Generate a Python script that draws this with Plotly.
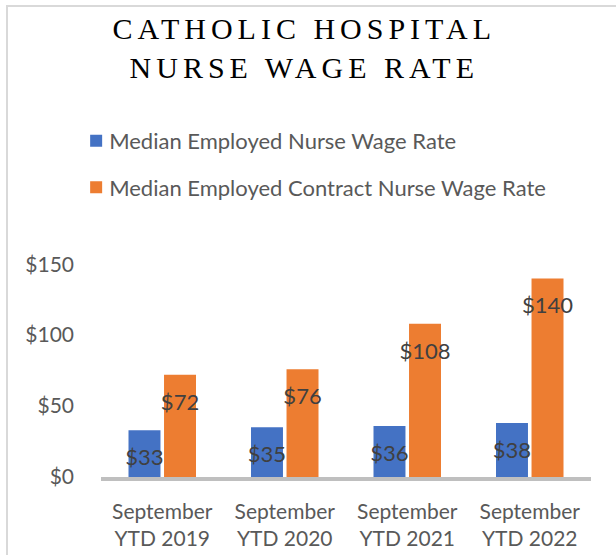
import plotly.graph_objects as go

categories = ["September<br>YTD 2019", "September<br>YTD 2020", "September<br>YTD 2021", "September<br>YTD 2022"]
employed = [33, 35, 36, 38]
contract = [72, 76, 108, 140]
series_names = ["Median Employed Nurse Wage Rate", "Median Employed Contract Nurse Wage Rate"]
tick_vals = [0, 50, 100, 150]
tick_text = ["$0", "$50", "$100", "$150"]

BODY = "Lato, 'Open Sans', sans-serif"
LABEL_COLOR = "#404040"
AXIS_TEXT = "#595959"

fig = go.Figure()
fig.add_trace(go.Bar(
    x=categories, y=employed, name=series_names[0],
    marker=dict(color="#4472C4", line=dict(width=0)),
    texttemplate="$%{y}", textposition="inside", insidetextanchor="end", textangle=0,
    constraintext="none", textfont=dict(color=LABEL_COLOR, size=22, family=BODY),
    legendgroup="a",
))
fig.add_trace(go.Bar(
    x=categories, y=contract, name=series_names[1],
    marker=dict(color="#ED7D31", line=dict(width=0)),
    texttemplate="$%{y}", textposition="inside", insidetextanchor="end", textangle=0,
    constraintext="none", textfont=dict(color=LABEL_COLOR, size=22, family=BODY),
    legendgroup="b",
))

fig.update_layout(
    width=616, height=555,
    margin=dict(l=101, r=25, t=250, b=78),
    paper_bgcolor="white", plot_bgcolor="white",
    barmode="group", bargap=0.42, bargroupgap=0.1,
    title=dict(
        text="CATHOLIC HOSPITAL<br>NURSE WAGE RATE",
        font=dict(family="'Liberation Serif', 'Times New Roman', serif", size=30, color="black"),
        x=0.494, xanchor="center", xref="container",
        y=0.93, yanchor="top", yref="container",
    ),
    legend=dict(
        x=-0.065, xanchor="left", y=1.573, yanchor="top",
        font=dict(family=BODY, size=22, color=AXIS_TEXT),
        tracegroupgap=15, traceorder="grouped", bgcolor="rgba(0,0,0,0)",
    ),
    xaxis=dict(
        showline=True, linecolor="#BFBFBF", linewidth=3.5, ticks="",
        tickfont=dict(family=BODY, size=21, color=AXIS_TEXT),
        ticklabelstandoff=13, showgrid=False, zeroline=False, automargin=False,
    ),
    yaxis=dict(
        range=[0, 160], tickvals=tick_vals, ticktext=tick_text,
        showline=False, showgrid=False, zeroline=False, ticks="",
        tickfont=dict(family=BODY, size=21, color=AXIS_TEXT),
        ticklabelstandoff=26, automargin=False,
    ),
    shapes=[dict(
        type="rect", xref="paper", yref="paper",
        x0=-0.1918, x1=1.4, y0=-0.8, y1=2.075,
        line=dict(color="#D9D9D9", width=2), fillcolor="rgba(0,0,0,0)", layer="below",
    )],
    showlegend=True,
)

post = """
document.querySelectorAll('.gtitle').forEach(function(e){e.style.letterSpacing='5px';});
document.querySelectorAll('.bartext').forEach(function(e){
  var t = e.getAttribute('transform') || '';
  e.setAttribute('transform', 'translate(0,10) ' + t);
});
document.querySelectorAll('.legend .legendsymbols').forEach(function(e){
  var t = e.getAttribute('transform') || '';
  e.setAttribute('transform', 'translate(7,0) ' + t);
});
"""
fig.write_html("out.html", post_script=post)
